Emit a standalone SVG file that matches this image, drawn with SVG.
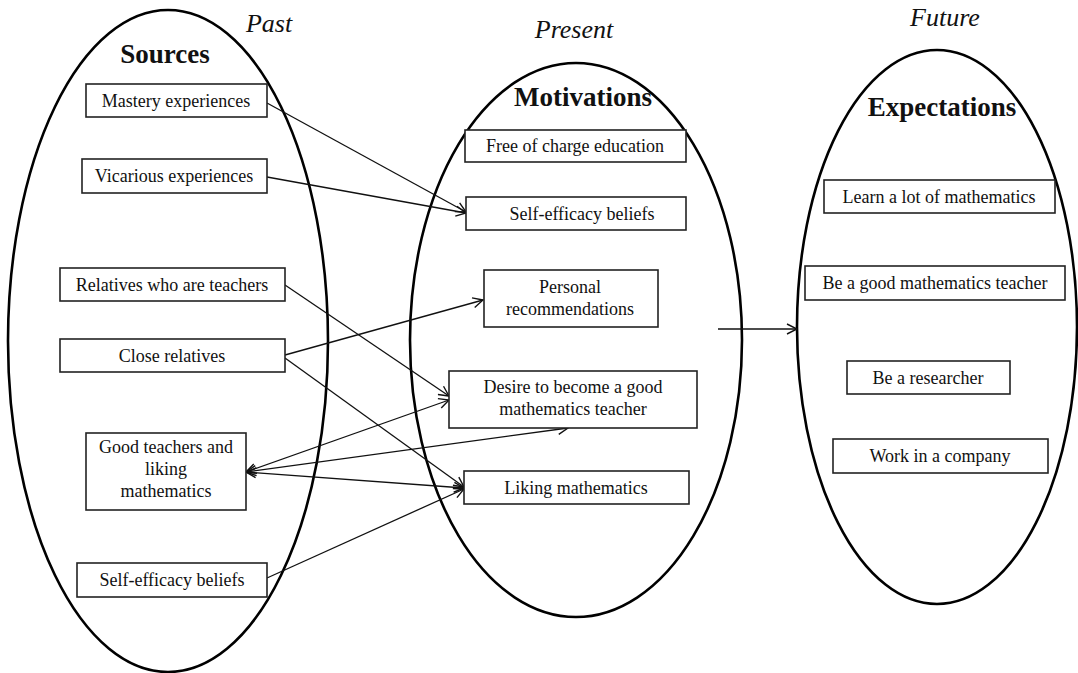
<svg xmlns="http://www.w3.org/2000/svg" width="1078" height="673" viewBox="0 0 1078 673">
<style>
.ell{fill:none;stroke:#000;stroke-width:2.6}
.box{fill:#fff;stroke:#222;stroke-width:1.6}
.t{font-family:"Liberation Serif","Times New Roman",serif;font-size:18px;fill:#111;text-anchor:middle}
.h{font-family:"Liberation Serif","Times New Roman",serif;font-size:27px;font-weight:bold;fill:#111;text-anchor:middle}
.i{font-family:"Liberation Serif","Times New Roman",serif;font-size:26px;font-style:italic;fill:#111;text-anchor:middle}
.c{fill:none;stroke:#111;stroke-width:1.3}
</style>
<defs>
<marker id="ah" viewBox="0 0 12 12" refX="11" refY="6" markerWidth="12" markerHeight="12" markerUnits="userSpaceOnUse" orient="auto-start-reverse">
<path d="M1,1 L11,6 L1,11" fill="none" stroke="#111" stroke-width="1.4"/>
</marker>
</defs>
<rect width="1078" height="673" fill="#fff"/>
<g id="ellipses">
<ellipse class="ell" cx="168" cy="341" rx="160" ry="331"/>
<ellipse class="ell" cx="576" cy="340" rx="166" ry="277"/>
<ellipse class="ell" cx="937" cy="327" rx="140" ry="277"/>
</g>
<g id="headers">
<text class="i" x="269" y="32">Past</text>
<text class="h" x="165" y="63">Sources</text>
<text class="i" x="574" y="38">Present</text>
<text class="h" x="583" y="106">Motivations</text>
<text class="i" x="945" y="26">Future</text>
<text class="h" x="942" y="116">Expectations</text>
</g>
<g id="connectors">
<line class="c" x1="267" y1="103" x2="466" y2="212" marker-end="url(#ah)"/>
<line class="c" x1="267" y1="177" x2="466" y2="213" marker-end="url(#ah)"/>
<line class="c" x1="285" y1="285" x2="449" y2="396" marker-end="url(#ah)"/>
<line class="c" x1="285" y1="355" x2="483" y2="300" marker-end="url(#ah)"/>
<line class="c" x1="285" y1="358" x2="464" y2="487" marker-end="url(#ah)"/>
<line class="c" x1="246" y1="472" x2="449" y2="400" marker-start="url(#ah)" marker-end="url(#ah)"/>
<line class="c" x1="246" y1="472" x2="568" y2="428" marker-start="url(#ah)" marker-end="url(#ah)"/>
<line class="c" x1="246" y1="472" x2="464" y2="488" marker-start="url(#ah)" marker-end="url(#ah)"/>
<line class="c" x1="267" y1="578" x2="464" y2="489" marker-end="url(#ah)"/>
<line class="c" x1="718" y1="329" x2="797" y2="329" marker-end="url(#ah)"/>
</g>
<g id="n-mastery"><rect class="box" x="86" y="84" width="181" height="33"/><text class="t" x="176" y="107">Mastery experiences</text></g>
<g id="n-vicarious"><rect class="box" x="82" y="159" width="185" height="34"/><text class="t" x="174" y="182">Vicarious experiences</text></g>
<g id="n-relatives-teachers"><rect class="box" x="60" y="268" width="225" height="33"/><text class="t" x="172" y="291">Relatives who are teachers</text></g>
<g id="n-close-relatives"><rect class="box" x="60" y="339" width="225" height="33"/><text class="t" x="172" y="362">Close relatives</text></g>
<g id="n-good-teachers"><rect class="box" x="86" y="433" width="160" height="77"/><text class="t" x="166" y="453">Good teachers and</text><text class="t" x="166" y="475">liking</text><text class="t" x="166" y="497">mathematics</text></g>
<g id="n-selfeff-past"><rect class="box" x="77" y="563" width="190" height="34"/><text class="t" x="172" y="586">Self-efficacy beliefs</text></g>
<g id="n-free"><rect class="box" x="465" y="130" width="221" height="32"/><text class="t" x="575" y="152">Free of charge education</text></g>
<g id="n-selfeff-present"><rect class="box" x="466" y="197" width="220" height="33"/><text class="t" x="582" y="220">Self-efficacy beliefs</text></g>
<g id="n-personal"><rect class="box" x="484" y="270" width="174" height="57"/><text class="t" x="570" y="293">Personal</text><text class="t" x="570" y="315">recommendations</text></g>
<g id="n-desire"><rect class="box" x="449" y="371" width="248" height="57"/><text class="t" x="573" y="393">Desire to become a good</text><text class="t" x="573" y="415">mathematics teacher</text></g>
<g id="n-liking"><rect class="box" x="464" y="471" width="225" height="33"/><text class="t" x="576" y="494">Liking mathematics</text></g>
<g id="n-learn"><rect class="box" x="824" y="180" width="231" height="33"/><text class="t" x="939" y="203">Learn a lot of mathematics</text></g>
<g id="n-good-teacher"><rect class="box" x="805" y="266" width="260" height="34"/><text class="t" x="935" y="289">Be a good mathematics teacher</text></g>
<g id="n-researcher"><rect class="box" x="847" y="361" width="163" height="33"/><text class="t" x="928" y="384">Be a researcher</text></g>
<g id="n-company"><rect class="box" x="833" y="439" width="215" height="34"/><text class="t" x="940" y="462">Work in a company</text></g>
</svg>
